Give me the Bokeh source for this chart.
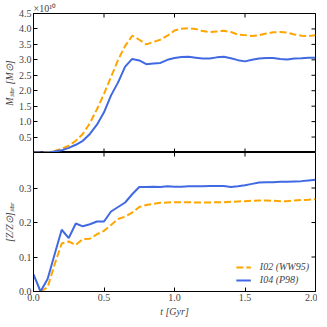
import math
from bokeh.plotting import figure
from bokeh.layouts import column
from bokeh.models import Range1d, FixedTicker, Legend, LegendItem, PrintfTickFormatter
from bokeh.embed import file_html
from bokeh.resources import INLINE

# time grid [Gyr]
t = [0.0, 0.05, 0.1, 0.15, 0.2, 0.25, 0.3, 0.35, 0.4, 0.45, 0.5, 0.55, 0.6, 0.65,
     0.7, 0.75, 0.8, 0.85, 0.9, 0.95, 1.0, 1.05, 1.1, 1.15, 1.2, 1.25, 1.3, 1.35,
     1.4, 1.45, 1.5, 1.55, 1.6, 1.65, 1.7, 1.75, 1.8, 1.85, 1.9, 1.95, 2.0]

# stellar mass in units of 1e10 Msun
mstar_i02 = [0.0, 0.0, 0.01, 0.05, 0.12, 0.22, 0.38, 0.6, 0.95, 1.4, 1.9, 2.45, 3.0, 3.45,
             3.78, 3.65, 3.5, 3.58, 3.65, 3.78, 3.95, 4.01, 4.02, 4.0, 3.93, 3.9, 3.92, 3.94,
             3.9, 3.82, 3.8, 3.77, 3.8, 3.85, 3.89, 3.9, 3.88, 3.82, 3.78, 3.77, 3.8]
mstar_i04 = [0.0, 0.0, 0.0, 0.03, 0.07, 0.15, 0.25, 0.38, 0.6, 0.9, 1.3, 1.85, 2.27, 2.78,
             3.03, 2.98, 2.86, 2.88, 2.9, 3.0, 3.06, 3.09, 3.1, 3.07, 3.04, 3.04, 3.08, 3.1,
             3.05, 2.99, 2.95, 3.0, 3.04, 3.06, 3.06, 3.03, 3.01, 3.04, 3.05, 3.07, 3.07]

# metallicity
tz_i02 = t[1:]
z_i02 = [0.0, 0.012, 0.079, 0.139, 0.145, 0.135, 0.152, 0.153, 0.166, 0.176, 0.193, 0.21, 0.217,
         0.229, 0.245, 0.251, 0.254, 0.257, 0.258, 0.259, 0.259, 0.259, 0.258, 0.258, 0.258, 0.259,
         0.259, 0.26, 0.261, 0.262, 0.263, 0.264, 0.264, 0.263, 0.262, 0.262, 0.264, 0.265, 0.266, 0.268]
z_i04 = [0.05, 0.0, 0.036, 0.108, 0.179, 0.155, 0.197, 0.189, 0.195, 0.203, 0.203, 0.232, 0.245,
         0.258, 0.282, 0.303, 0.303, 0.304, 0.303, 0.305, 0.304, 0.304, 0.305, 0.305, 0.305, 0.306,
         0.306, 0.306, 0.303, 0.305, 0.308, 0.312, 0.316, 0.317, 0.317, 0.318, 0.318, 0.319, 0.32,
         0.322, 0.324]

x_ticks = [0.0, 0.5, 1.0, 1.5, 2.0]
m_ticks = [0.5, 1.0, 1.5, 2.0, 2.5, 3.0, 3.5, 4.0, 4.5]
z_ticks = [0.0, 0.1, 0.2, 0.3]

ORANGE = "#FFA500"
BLUE = "#4169E1"
FONT = "Liberation Serif"


def style(ax):
    ax.major_tick_in = 4
    ax.major_tick_out = 0
    ax.minor_tick_line_color = None
    ax.axis_line_color = "black"
    ax.major_tick_line_color = "black"
    ax.major_label_text_font = FONT
    ax.axis_label_text_font = FONT
    ax.major_label_text_font_size = "10px"
    ax.major_label_standoff = 2
    ax.formatter = PrintfTickFormatter(format="%.1f")
    ax.axis_label_text_font_size = "10px"
    ax.axis_label_text_font_style = "italic"


def edge_ticks(p, xr, yr, yticks, top_edge=True, bottom_edge=False):
    # inward tick marks on the frame sides without labels
    if top_edge:
        p.scatter(x_ticks, [yr.end] * len(x_ticks), marker="dash", angle=math.pi / 2,
                  size=8, line_color="black", line_width=1)
    if bottom_edge:
        p.scatter(x_ticks, [yr.start] * len(x_ticks), marker="dash", angle=math.pi / 2,
                  size=8, line_color="black", line_width=1)
    p.scatter([xr.end] * len(yticks), yticks, marker="dash", size=8,
              line_color="black", line_width=1)


def make(yr, yticks, top_border):
    xr = Range1d(0, 2)
    p = figure(output_backend="svg", toolbar_location=None,
               frame_width=282, frame_height=139,
               x_range=xr, y_range=yr,
               min_border_left=0, min_border_right=2,
               min_border_top=top_border, min_border_bottom=0)
    p.xgrid.visible = False
    p.ygrid.visible = False
    p.outline_line_color = "black"
    p.below[0].ticker = FixedTicker(ticks=x_ticks)
    p.left[0].ticker = FixedTicker(ticks=yticks)
    style(p.left[0])
    style(p.below[0])
    p.left[0].axis_label_standoff = 1
    return p, xr


m_range = Range1d(0, 4.5)
top, xr1 = make(m_range, m_ticks, 12)
top.below[0].visible = False
top.title.text = "×10¹⁰"
top.title.align = "left"
top.title.text_font = FONT
top.title.text_font_size = "10px"
top.title.text_font_style = "normal"
top.title.standoff = 0
top.left[0].axis_label = "Mₛₜₐᵣ [M⊙]"
top.line(t, mstar_i02, line_color=ORANGE, line_width=2, line_dash="7 3")
top.line(t, mstar_i04, line_color=BLUE, line_width=2)
edge_ticks(top, xr1, m_range, m_ticks, top_edge=True, bottom_edge=True)

z_range = Range1d(0, 0.403)
bot, xr2 = make(z_range, z_ticks, 0)
xb = bot.below[0]
xb.axis_label = "t [Gyr]"
xb.axis_label_standoff = 2
bot.left[0].axis_label = "[Z/Z⊙]ₛₜₐᵣ"
r1 = bot.line(tz_i02, z_i02, line_color=ORANGE, line_width=2, line_dash="7 3")
r2 = bot.line(t, z_i04, line_color=BLUE, line_width=2)
edge_ticks(bot, xr2, z_range, z_ticks, top_edge=True, bottom_edge=False)

leg = Legend(items=[LegendItem(label="I02 (WW95)", renderers=[r1]),
                    LegendItem(label="I04 (P98)", renderers=[r2])],
             location="bottom_right")
leg.border_line_color = None
leg.background_fill_alpha = 0
leg.label_text_font = FONT
leg.label_text_font_size = "10px"
leg.label_text_font_style = "italic"
leg.glyph_width = 15
leg.glyph_height = 10
leg.label_standoff = 9
leg.spacing = 2
leg.padding = 2
leg.margin = 6
bot.add_layout(leg, "center")

layout = column(top, bot, spacing=0)
open("out.html", "w").write(file_html(layout, INLINE))
